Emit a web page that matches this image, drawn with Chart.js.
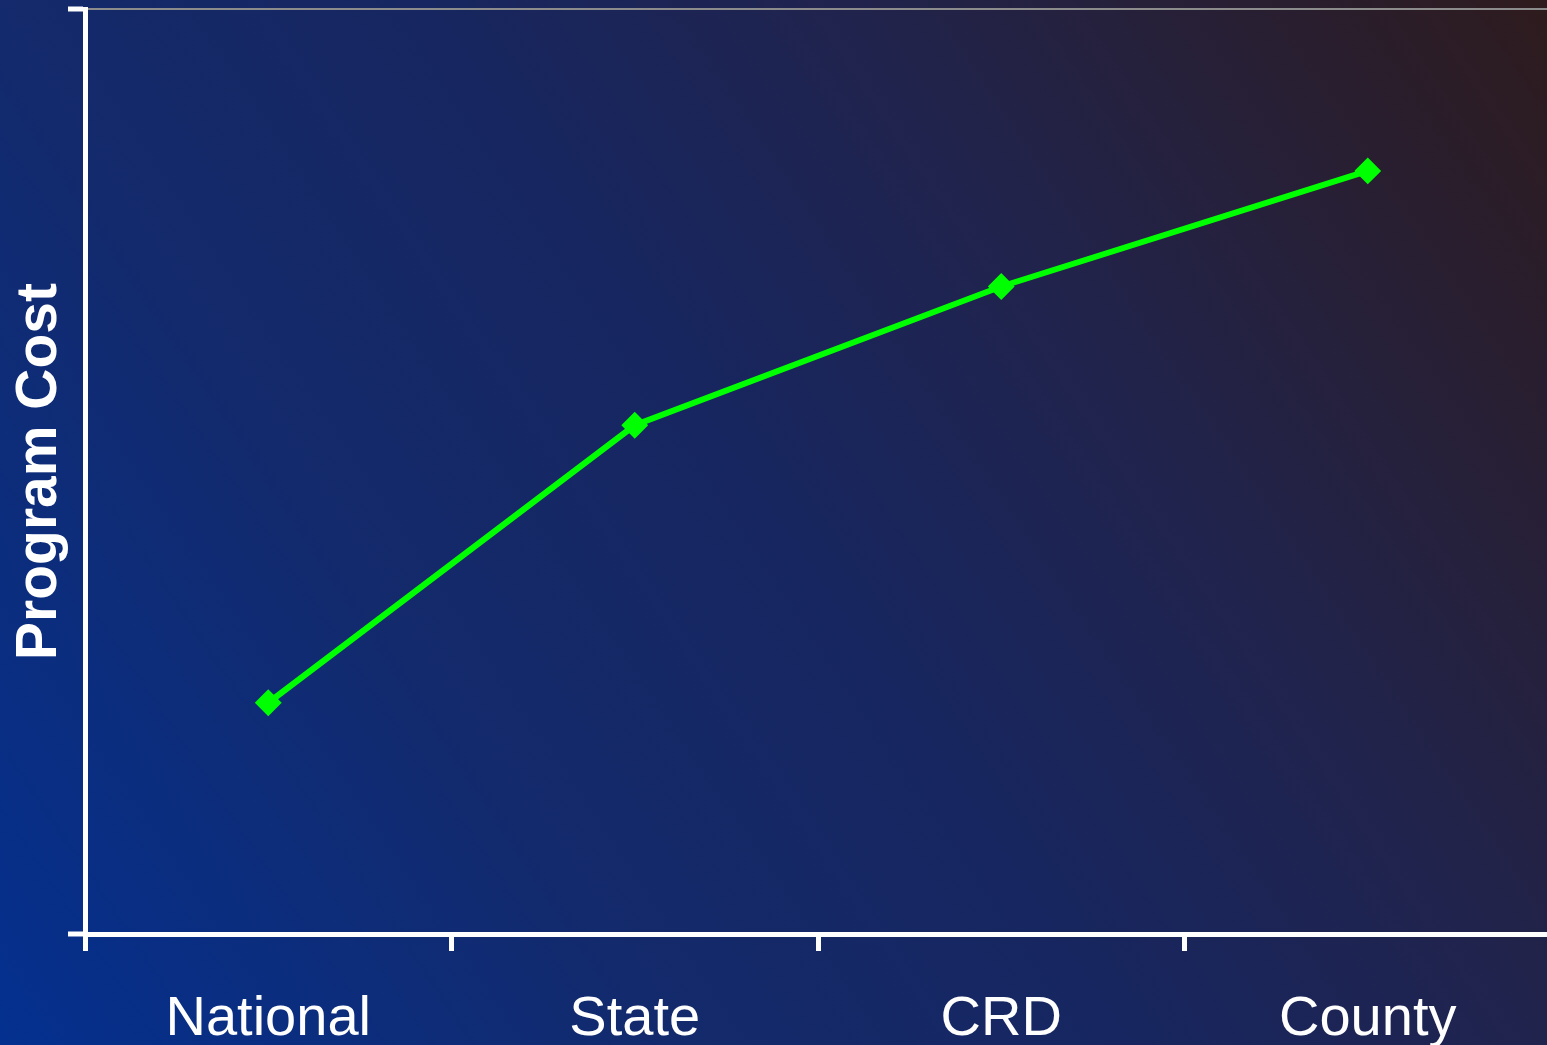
<!DOCTYPE html>
<html>
<head>
<meta charset="utf-8">
<script src="https://cdn.jsdelivr.net/npm/chart.js@4/dist/chart.umd.min.js"></script>
<style>
  html, body { margin: 0; padding: 0; overflow: hidden; background: #0d2a70; }
  #wrap { width: 1551px; height: 1045px; }
  canvas { display: block; }
</style>
</head>
<body>
<div id="wrap"><canvas id="c" width="1551" height="1045"></canvas></div>
<script>
// Program cost by delivery level
const categories = ['National', 'State', 'CRD', 'County'];
const programCost = [25, 55, 70, 82.5];
const yTitle = 'Program Cost';

// Diagonal slide-style background: deep blue lower left to dark brown upper right
const backgroundPlugin = {
  id: 'slideBackground',
  beforeDraw(chart) {
    const { ctx, width, height } = chart;
    const g = ctx.createLinearGradient(0, height, width, 0);
    g.addColorStop(0.0, '#04308f');
    g.addColorStop(0.3, '#132a6c');
    g.addColorStop(0.5, '#172660');
    g.addColorStop(0.7, '#21234b');
    g.addColorStop(1.0, '#2e1b1d');
    ctx.save();
    ctx.fillStyle = g;
    ctx.fillRect(0, 0, width, height);
    ctx.restore();
  }
};

new Chart(document.getElementById('c'), {
  type: 'line',
  data: {
    labels: categories,
    datasets: [{
      data: programCost,
      borderColor: '#00ff00',
      backgroundColor: '#00ff00',
      borderWidth: 6,
      pointStyle: 'rectRot',
      pointRadius: 12,
      pointBorderWidth: 2,
      pointBackgroundColor: '#00ff00',
      pointBorderColor: '#00ff00',
      tension: 0,
      fill: false,
      clip: false
    }]
  },
  options: {
    responsive: false,
    animation: false,
    layout: { autoPadding: false, padding: { top: 9, right: 0, bottom: 0, left: 0 } },
    plugins: {
      legend: { display: false },
      tooltip: { enabled: false }
    },
    scales: {
      x: {
        type: 'category',
        offset: true,
        afterFit(scale) { scale.height = 111; },
        border: { display: true, color: '#ffffff', width: 5 },
        grid: {
          offset: true,
          drawOnChartArea: false,
          drawTicks: true,
          tickLength: 17,
          tickColor: '#ffffff',
          tickWidth: 5
        },
        ticks: {
          color: '#ffffff',
          padding: 35,
          maxRotation: 0,
          autoSkip: false,
          font: { family: 'Liberation Sans, Arial, sans-serif', size: 56 }
        }
      },
      y: {
        min: 0,
        max: 100,
        afterFit(scale) { scale.width = 85; },
        border: { display: true, color: '#ffffff', width: 5 },
        grid: {
          drawOnChartArea: true,
          color: '#8c8c8c',
          lineWidth: 2,
          drawTicks: true,
          tickLength: 17,
          tickColor: '#ffffff',
          tickWidth: 5
        },
        ticks: { display: false, stepSize: 100 },
        title: {
          display: true,
          text: yTitle,
          color: '#ffffff',
          padding: { top: 6, bottom: 0 },
          font: { family: 'Liberation Sans, Arial, sans-serif', size: 57, weight: 'bold' }
        }
      }
    }
  },
  plugins: [backgroundPlugin]
});
</script>
</body>
</html>
